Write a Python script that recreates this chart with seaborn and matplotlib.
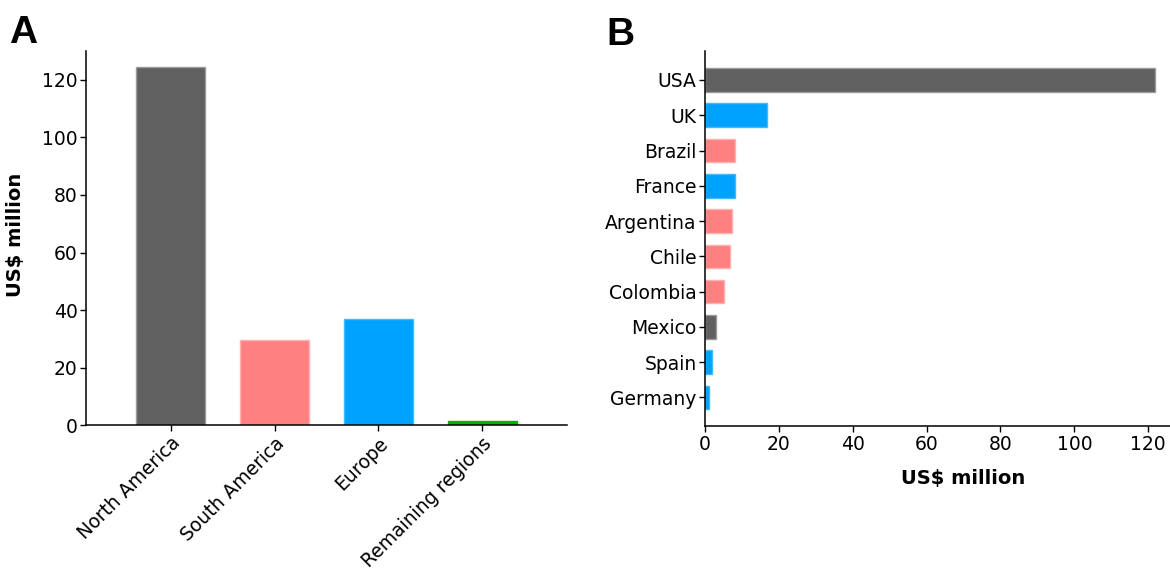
import matplotlib
matplotlib.use("Agg")
import matplotlib.pyplot as plt
import seaborn as sns
import pandas as pd

# Funding by region (panel A)
regions = ["North America", "South America", "Europe", "Remaining regions"]
region_values = [124.4, 29.5, 36.9, 1.6]

# Funding by country (panel B)
countries = ["USA", "UK", "Brazil", "France", "Argentina", "Chile",
             "Colombia", "Mexico", "Spain", "Germany"]
country_values = [121.8, 16.8, 8.0, 8.0, 7.4, 6.8, 5.1, 3.1, 1.9, 1.1]
country_regions = ["North America", "Europe", "South America", "Europe",
                   "South America", "South America", "South America",
                   "North America", "Europe", "Europe"]

region_colors = {
    "North America": "#606060",
    "South America": "#FF8080",
    "Europe": "#00A2FF",
    "Remaining regions": "#00B300",
}
edge_colors = {
    "North America": "#9A9A9A",
    "South America": "#FFB0B0",
    "Europe": "#40BAFF",
    "Remaining regions": "#00B300",
}

sns.set_style("ticks")
plt.rcParams["font.family"] = ["DejaVu Sans"]
plt.rcParams["text.color"] = "black"
plt.rcParams["axes.labelcolor"] = "black"

tick_font = {"family": "DejaVu Sans", "size": 13.5}
label_font = {"family": "DejaVu Sans", "weight": "bold", "size": 14,
              "color": "black"}
letter_font = {"family": "Liberation Sans", "weight": "bold", "size": 28,
               "color": "black"}

fig = plt.figure(figsize=(11.7, 5.68), dpi=100)
W, H = 1170, 568
axA = fig.add_axes([86 / W, 1 - 425.3 / H, (567.3 - 86) / W, (425.3 - 51) / H])
axB = fig.add_axes([705 / W, 1 - 426.3 / H, (1170 - 705) / W, (426.3 - 50.7) / H])

# Panel A: vertical bars per region
dfA = pd.DataFrame({"region": regions, "value": region_values})
sns.barplot(data=dfA, x="region", y="value", hue="region",
            palette=region_colors, legend=False, width=0.662, ax=axA,
            saturation=1)
for patch, reg in zip(axA.patches, regions):
    patch.set_edgecolor(edge_colors[reg])
    patch.set_linewidth(1.0)
axA.set_xlim(-0.816, 3.82)
axA.set_ylim(0, 130)
axA.set_yticks([0, 20, 40, 60, 80, 100, 120])
axA.set_xlabel("")
axA.set_ylabel("US$ million", fontdict=label_font)
axA.yaxis.set_label_coords(-61 / (567.3 - 86), 0.51)
axA.set_xticks(range(len(regions)))
axA.set_xticklabels(regions, rotation=45, ha="right", rotation_mode="anchor",
                    fontdict=tick_font)
for lab in axA.get_yticklabels():
    lab.set_fontfamily("DejaVu Sans")
    lab.set_fontsize(13.5)

# Panel B: horizontal bars per country
dfB = pd.DataFrame({"country": countries, "value": country_values,
                    "region": country_regions})
sns.barplot(data=dfB, x="value", y="country", hue="country",
            palette={c: region_colors[r] for c, r in zip(countries, country_regions)},
            legend=False, width=0.667, ax=axB, saturation=1, orient="h")
for patch, reg in zip(axB.patches, country_regions):
    patch.set_edgecolor(edge_colors[reg])
    patch.set_linewidth(1.0)
axB.set_xlim(0, 125.9)
axB.set_ylim(9.82, -0.83)
axB.set_xticks([0, 20, 40, 60, 80, 100, 120])
axB.set_ylabel("")
axB.set_xlabel("US$ million", fontdict=label_font)
axB.xaxis.set_label_coords(0.556, -43 / (426.3 - 50.7))
for lab in axB.get_xticklabels() + axB.get_yticklabels():
    lab.set_fontfamily("DejaVu Sans")
    lab.set_fontsize(13.5)

for ax in (axA, axB):
    sns.despine(ax=ax)
    for side in ("left", "bottom"):
        ax.spines[side].set_linewidth(1.1)
        ax.spines[side].set_color("black")
    ax.tick_params(axis="both", direction="out", length=4, width=1.0,
                   color="black", labelcolor="black", pad=2)

fig.text(9 / W, 1 - 43 / H, "A", fontdict=letter_font, ha="left", va="baseline")
fig.text(606 / W, 1 - 45 / H, "B", fontdict=letter_font, ha="left", va="baseline")

fig.savefig("out.png", dpi=100)
